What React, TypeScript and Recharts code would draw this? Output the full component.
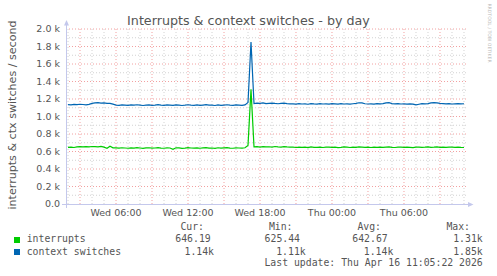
import React from 'react';
import { Line, LineChart, ReferenceLine, XAxis, YAxis } from 'recharts';

// hours since Wed 00:00, one sample every 15 minutes
const START_HOUR = 2;
const STEP_HOURS = 0.25;

const CONTEXT_SWITCHES = [
  1135, 1132, 1138, 1136, 1140, 1137, 1134, 1139,
  1150, 1155, 1158, 1152, 1156, 1149, 1150, 1142,
  1131, 1128, 1133, 1130, 1127, 1132, 1129, 1134, 1130, 1126,
  1131, 1133, 1128, 1130, 1135, 1129, 1127, 1132, 1130, 1128,
  1133, 1131, 1126, 1129, 1134, 1130, 1128, 1132, 1127, 1131,
  1135, 1129, 1130, 1126, 1133, 1128, 1131, 1134, 1129, 1127,
  1132, 1130, 1128, 1133,
  1160, 1850,
  1148, 1152, 1150, 1155, 1147, 1151, 1153, 1149, 1146, 1150, 1152, 1148, 1145,
  1144, 1141, 1146, 1143, 1145, 1140, 1147, 1144, 1142, 1146,
  1143, 1145, 1141, 1146, 1144, 1142, 1147, 1143, 1145, 1141,
  1146, 1150, 1157, 1155, 1146, 1143, 1145, 1142, 1146, 1144,
  1147, 1156, 1158, 1148, 1144, 1146, 1143, 1145, 1141, 1144,
  1142, 1132, 1140, 1146, 1144, 1148, 1155, 1158, 1156, 1150,
  1147, 1144, 1146, 1143, 1145, 1147, 1144, 1146,
];

const INTERRUPTS = [
  648, 650, 646, 652, 655, 653, 656, 654,
  657, 655, 652, 658, 650, 636, 660, 642,
  641, 638, 643, 640, 637, 642, 639, 644, 640, 636,
  641, 643, 638, 640, 645, 639, 637, 642, 640, 625,
  643, 641, 636, 639, 644, 640, 638, 642, 637, 641,
  645, 639, 640, 636, 643, 638, 641, 644, 639, 637,
  642, 640, 638, 643,
  670, 1310,
  653, 655, 651, 656, 652, 654, 650, 657, 653, 651, 655, 652, 650,
  649, 646, 651, 648, 650, 645, 652, 648, 647, 650,
  646, 649, 651, 647, 650, 645, 648, 652, 649, 646,
  650, 648, 653, 651, 647, 649, 646, 650, 648, 651,
  647, 650, 652, 648, 646, 649, 651, 647, 650, 648,
  645, 649, 651, 648, 650, 653, 647, 649, 652, 648,
  650, 647, 649, 651, 648, 650, 647, 646,
];

const X_DOMAIN = [1.833, 35.167];
const X_LABEL_HOURS = [6, 12, 18, 24, 30];
const X_MINOR_HOURS = [
  2, 4, 5, 7, 8, 10, 11, 13, 14, 16, 17, 19, 20, 22,
  23, 25, 26, 28, 29, 31, 32, 34, 35,
];
const X_MAJOR_HOURS = [3, 6, 9, 12, 15, 18, 21, 24, 27, 30, 33];
const Y_TICKS = [0, 200, 400, 600, 800, 1000, 1200, 1400, 1600, 1800, 2000];
const Y_MINOR = [100, 300, 500, 700, 900, 1100, 1300, 1500, 1700, 1900];
const Y_MAJOR = [200, 400, 600, 800, 1000, 1200, 1400, 1600, 1800, 2000];

const LEGEND_HEADERS = ['Cur:', 'Min:', 'Avg:', 'Max:'];
const INTERRUPTS_STATS = ['646.19', '625.44', '642.67', '1.31k'];
const CONTEXT_STATS = ['1.14k', '1.11k', '1.14k', '1.85k'];
const LAST_UPDATE = 'Last update: Thu Apr 16 11:05:22 2026';

const GREEN = '#00cc00';
const BLUE = '#0066b3';
const TEXT = '#555555';
const AXIS = '#c4c8ec';
const MINOR = '#d2d2d2';
const MAJOR = '#f2a0a0';

const data = CONTEXT_SWITCHES.map((ctx, i) => ({
  t: START_HOUR + i * STEP_HOURS,
  ctx,
  irq: INTERRUPTS[i],
}));

const fmtDay = (h: number) => {
  const day = h >= 24 ? 'Thu' : 'Wed';
  const hh = String(h % 24).padStart(2, '0');
  return `${day} ${hh}:00`;
};

const fmtK = (v: number) => (v === 0 ? '0.0' : `${(v / 1000).toFixed(1)} k`);

const abs = (extra: React.CSSProperties): React.CSSProperties => ({
  position: 'absolute',
  whiteSpace: 'pre',
  ...extra,
});

// right-aligned legend cell, centred vertically on y
const cell = (text: string, right: number, y: number, key: string) => (
  <div
    key={key}
    style={abs({ right: 497 - right, top: y - 6, lineHeight: '12px' })}
  >
    {text}
  </div>
);

export default function App() {
  const headerRights = [204, 292.5, 381, 470];
  const irqRights = [210.7, 300, 387.7, 482.7];
  const ctxRights = [214, 305.7, 393.3, 482.7];

  return (
    <div
      style={{
        position: 'fixed',
        left: 0,
        top: 0,
        width: 497,
        height: 276,
        background: '#fff',
        fontFamily: '"DejaVu Sans", sans-serif',
        color: TEXT,
        overflow: 'hidden',
      }}
    >
      <LineChart
        width={497}
        height={276}
        data={data}
        margin={{ top: 29, right: 31, bottom: 52, left: 0 }}
      >
        <XAxis
          dataKey="t"
          type="number"
          domain={X_DOMAIN}
          allowDataOverflow
          ticks={X_LABEL_HOURS}
          interval={0}
          tickFormatter={fmtDay}
          height={20}
          tickLine={false}
          tickSize={0}
          tickMargin={5}
          axisLine={false}
          tick={{ fontSize: 9.5, fill: TEXT }}
        />
        <YAxis
          type="number"
          domain={[0, 2000]}
          ticks={Y_TICKS}
          interval={0}
          tickFormatter={fmtK}
          width={66}
          tickLine={false}
          tickSize={0}
          tickMargin={6}
          axisLine={false}
          tick={{ fontSize: 9.5, fill: TEXT }}
        />
        {X_MINOR_HOURS.map((h) => (
          <ReferenceLine key={`xm${h}`} x={h} stroke={MINOR} strokeDasharray="1 2" />
        ))}
        {Y_MINOR.map((v) => (
          <ReferenceLine key={`ym${v}`} y={v} stroke={MINOR} strokeDasharray="1 2" />
        ))}
        {X_MAJOR_HOURS.map((h) => (
          <ReferenceLine key={`xM${h}`} x={h} stroke={MAJOR} strokeDasharray="1 2" />
        ))}
        {Y_MAJOR.map((v) => (
          <ReferenceLine key={`yM${v}`} y={v} stroke={MAJOR} strokeDasharray="1 2" />
        ))}
        <Line
          dataKey="irq"
          stroke={GREEN}
          strokeWidth={1.2}
          dot={false}
          isAnimationActive={false}
        />
        <Line
          dataKey="ctx"
          stroke={BLUE}
          strokeWidth={1.2}
          dot={false}
          isAnimationActive={false}
        />
      </LineChart>

      {/* axis lines with rrdtool-style arrow heads */}
      <svg
        width={497}
        height={276}
        style={{ position: 'absolute', left: 0, top: 0, pointerEvents: 'none' }}
      >
        <line x1={62} y1={204.5} x2={468} y2={204.5} stroke={AXIS} />
        <line x1={66.5} y1={208} x2={66.5} y2={25} stroke={AXIS} />
        <polygon points="468,202 473.5,204.5 468,207" fill={AXIS} />
        <polygon points="64,25.5 66.5,20 69,25.5" fill={AXIS} />
      </svg>

      <div
        style={abs({
          left: 0,
          width: 497,
          top: 13,
          textAlign: 'center',
          fontSize: 12.7,
          lineHeight: '15px',
        })}
      >
        Interrupts &amp; context switches - by day
      </div>

      <div
        style={abs({
          left: 12,
          top: 115,
          fontSize: 11.1,
          lineHeight: '13px',
          transform: 'translate(-50%, -50%) rotate(-90deg)',
        })}
      >
        interrupts &amp; ctx switches / second
      </div>

      <div
        style={abs({
          left: 488.5,
          top: 33,
          fontSize: 4.6,
          lineHeight: '6px',
          color: '#b8b8b8',
          transform: 'translate(-50%, -50%) rotate(90deg)',
        })}
      >
        RRDTOOL / TOBI OETIKER
      </div>

      <div
        style={{
          position: 'absolute',
          left: 0,
          top: 0,
          width: 497,
          height: 276,
          fontFamily: '"DejaVu Sans Mono", monospace',
          fontSize: 9.8,
        }}
      >
        {LEGEND_HEADERS.map((h, i) => cell(h, headerRights[i], 227.3, `h${i}`))}

        <div style={abs({ left: 14, top: 236.5, width: 6, height: 6, background: GREEN })} />
        <div style={abs({ left: 26.7, top: 239.3 - 6, lineHeight: '12px' })}>interrupts</div>
        {INTERRUPTS_STATS.map((s, i) => cell(s, irqRights[i], 239.3, `i${i}`))}

        <div style={abs({ left: 14, top: 248.8, width: 6, height: 6, background: BLUE })} />
        <div style={abs({ left: 26.7, top: 251.7 - 6, lineHeight: '12px' })}>context switches</div>
        {CONTEXT_STATS.map((s, i) => cell(s, ctxRights[i], 251.7, `c${i}`))}

        {cell(LAST_UPDATE, 482.7, 263.3, 'lu')}
      </div>
    </div>
  );
}
